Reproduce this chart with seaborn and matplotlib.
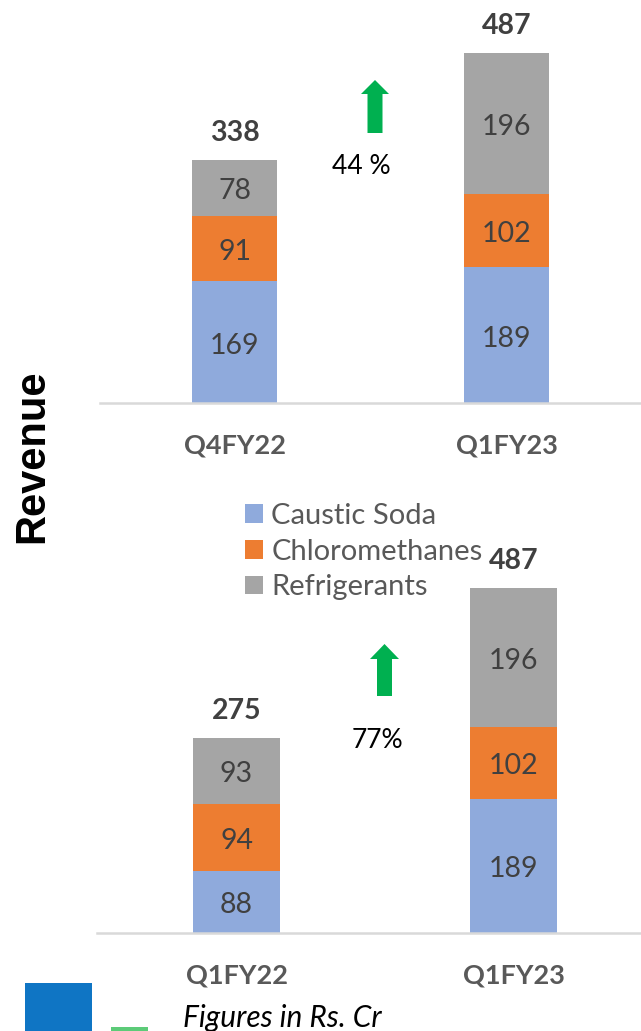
import numpy as np
import pandas as pd
import matplotlib
matplotlib.use("Agg")
import matplotlib.pyplot as plt
import seaborn as sns
from matplotlib.patches import Patch, FancyArrow, Rectangle

# ---------------- data ----------------
series = ["Caustic Soda", "Chloromethanes", "Refrigerants"]

top_cats = ["Q4FY22", "Q1FY23"]
top_caustic = [169, 189]
top_chloro = [91, 102]
top_refrig = [78, 196]
top_totals = [338, 487]
top_growth = "44 %"

bot_cats = ["Q1FY22", "Q1FY23"]
bot_caustic = [88, 189]
bot_chloro = [94, 102]
bot_refrig = [93, 196]
bot_totals = [275, 487]
bot_growth = "77%"

colors = ["#8FAADC", "#ED7D31", "#A5A5A5"]
label_col = "#404040"
cat_col = "#595959"

sns.set_theme(style="white")
plt.rcParams["font.family"] = ["Lato", "DejaVu Sans"]

W, H = 641, 1031
fig = plt.figure(figsize=(W / 100, H / 100), dpi=100)


def px_axes(left, right, top, bottom):
    return fig.add_axes([left / W, 1 - bottom / H, (right - left) / W, (bottom - top) / H])


def draw(ax, cats, parts, totals, width, xlim, ylim):
    parts = np.array(parts)
    cum = np.cumsum(parts, axis=0)
    for i in reversed(range(len(parts))):
        df = pd.DataFrame({"cat": cats, "val": cum[i]})
        sns.barplot(data=df, x="cat", y="val", color=colors[i], saturation=1,
                    width=width, ax=ax, edgecolor="none", linewidth=0, errorbar=None)
    for j in range(len(cats)):
        base = 0
        for i in range(len(parts)):
            v = parts[i][j]
            ax.annotate(str(v), (j, base + v / 2), xytext=(0, -2.5),
                        textcoords="offset points", ha="center", va="center",
                        fontsize=20.5, color=label_col)
            base += v
        ax.annotate(str(totals[j]), (j, totals[j]), xytext=(0, 19.5),
                    textcoords="offset points", ha="center", va="center",
                    fontsize=20.5, fontweight="bold", color=label_col)
    ax.set_xlim(*xlim)
    ax.set_ylim(*ylim)
    ax.set_xlabel("")
    ax.set_ylabel("")
    ax.set_yticks([])
    for s in ["left", "right", "top"]:
        ax.spines[s].set_visible(False)
    ax.spines["bottom"].set_color("#D9D9D9")
    ax.spines["bottom"].set_linewidth(1.8)
    ax.tick_params(axis="x", length=0, pad=22, labelsize=19.5, labelcolor=cat_col)
    for t in ax.get_xticklabels():
        t.set_fontweight("bold")
    ax.patch.set_visible(False)


ax1 = px_axes(100, 641, 0, 403)
draw(ax1, top_cats, [top_caustic, top_chloro, top_refrig], top_totals,
     0.3125, (-0.496, 1.493), (0, 403 / 0.719))

ax2 = px_axes(97, 641, 540, 933)
draw(ax2, bot_cats, [bot_caustic, bot_chloro, bot_refrig], bot_totals,
     0.314, (-0.503, 1.458), (0, 393 / 0.709))

# overlay for decorations (pixel coordinates)
ov = fig.add_axes([0, 0, 1, 1])
ov.set_xlim(0, W)
ov.set_ylim(H, 0)
ov.axis("off")
ov.patch.set_visible(False)

ov.add_patch(FancyArrow(375, 133, 0, -53, width=15, head_width=28, head_length=14,
                        length_includes_head=True, color="#00B050", lw=0))
ov.add_patch(FancyArrow(384.5, 696, 0, -52, width=15, head_width=29, head_length=15,
                        length_includes_head=True, color="#00B050", lw=0))
ov.text(361, 166, top_growth, ha="center", va="center", fontsize=19, color="black")
ov.text(377, 741, bot_growth, ha="center", va="center", fontsize=19, color="black")

ov.add_patch(Rectangle((25, 983), 67, 50, color="#0F75C4", lw=0))
ov.add_patch(Rectangle((111, 1027), 37, 5, color="#5CCB78", lw=0))
ov.text(183, 1018, "Figures in Rs. Cr", ha="left", va="center", fontsize=21.5,
        fontstyle="italic", color="black")

fig.text(32 / W, 1 - 456 / H, "Revenue", rotation=90, ha="center", va="center",
         fontsize=30, fontweight="bold", color="black",
         family=["Liberation Sans", "DejaVu Sans"])

handles = [Patch(facecolor=c, edgecolor="none") for c in colors]
fig.legend(handles, series, loc="upper left", bbox_to_anchor=(245 / W, 1 - 503 / H),
           frameon=False, fontsize=21, labelcolor=cat_col, handlelength=0.6,
           handleheight=0.6, handletextpad=0.3, labelspacing=0.33,
           borderpad=0, borderaxespad=0)

fig.savefig("out.png", dpi=100)
